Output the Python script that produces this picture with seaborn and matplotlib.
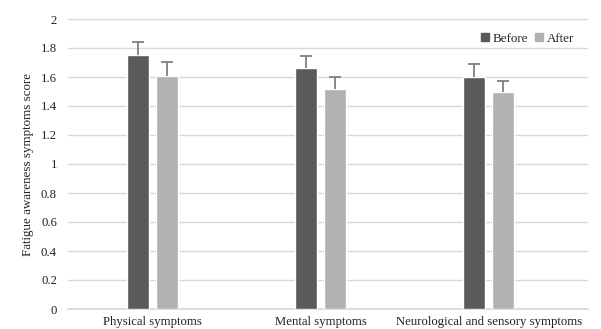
import numpy as np
import pandas as pd
import matplotlib
matplotlib.use("Agg")
import matplotlib.pyplot as plt
from matplotlib.lines import Line2D
import seaborn as sns

# Data
categories = ["Physical symptoms", "Mental symptoms", "Neurological and sensory symptoms"]
before = [1.75, 1.66, 1.60]
after = [1.61, 1.52, 1.50]
before_err = [0.09, 0.085, 0.09]
after_err = [0.09, 0.08, 0.075]

sns.set_theme(style="white")
plt.rcParams["font.family"] = ["Liberation Serif", "DejaVu Serif"]

df = pd.DataFrame({
    "category": categories * 2,
    "score": before + after,
    "err": before_err + after_err,
    "time": ["Before"] * 3 + ["After"] * 3,
})

colors = {"Before": "#5a5a5a", "After": "#b1b1b1"}

fig = plt.figure(figsize=(6.01, 3.29), dpi=100)
ax = fig.add_axes([68 / 601, 1 - 309 / 329, 520 / 601, 290 / 329])

sns.barplot(data=df, x="category", y="score", hue="time", palette=colors,
            width=0.346, gap=0.25, errorbar=None, legend=False, ax=ax,
            saturation=1, zorder=3)

# upper-only error bars at bar centres
for cont, errs in zip(ax.containers, [before_err, after_err]):
    for patch, e in zip(cont.patches, errs):
        cx = patch.get_x() + patch.get_width() / 2
        eb = ax.errorbar(cx, patch.get_height(), yerr=[[0], [e]], fmt="none",
                         ecolor="#7f7f7f", elinewidth=1.3, capsize=4, capthick=1.3,
                         zorder=4)
        eb[1][0].set_visible(False)  # drop the lower cap

ax.set_xlim(-0.503, 2.59)
ax.set_ylim(0, 2)
ax.set_yticks(np.arange(0, 2.01, 0.2))
ax.set_yticklabels(["0", "0.2", "0.4", "0.6", "0.8", "1", "1.2", "1.4", "1.6", "1.8", "2"])
ax.yaxis.grid(True, color="#d9d9d9", linewidth=1, zorder=0)
ax.set_axisbelow(True)
for s in ["top", "right", "left"]:
    ax.spines[s].set_visible(False)
ax.spines["bottom"].set_color("#d9d9d9")
ax.tick_params(axis="both", length=0, labelsize=9.2, colors="#222222")
ax.tick_params(axis="y", pad=8)
ax.tick_params(axis="x", pad=5)
ax.set_xlabel("")
ax.set_ylabel("Fatigue awareness symptoms score", fontsize=9.4, color="#222222", labelpad=5)

handles = [Line2D([0], [0], marker="s", linestyle="none", markersize=5.5,
                  markerfacecolor=colors[k], markeredgecolor=colors[k], label=k)
           for k in ["Before", "After"]]
ax.legend(handles=handles, loc="upper right", bbox_to_anchor=(0.99, 0.985), ncol=2,
          frameon=False, fontsize=9.4, handlelength=0.7, handletextpad=0.2,
          columnspacing=0.5, borderaxespad=0.3)

fig.savefig("out.png", dpi=100)
